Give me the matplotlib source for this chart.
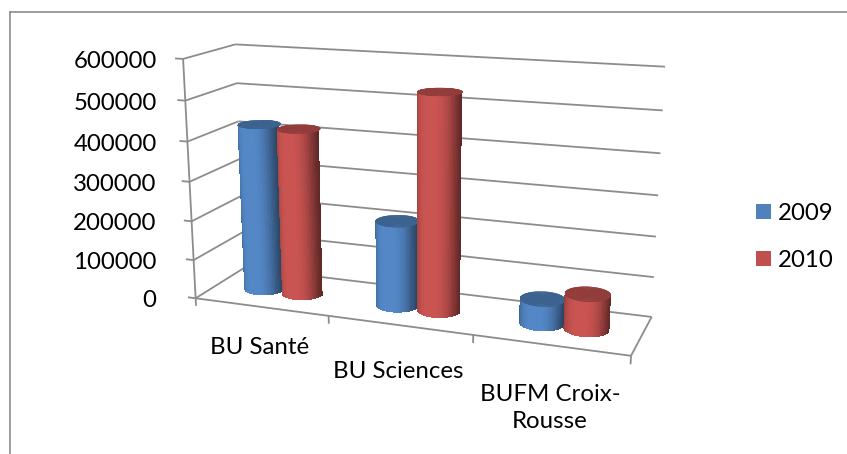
import numpy as np
import matplotlib
matplotlib.use("Agg")
import matplotlib.pyplot as plt
from matplotlib.patches import Patch
from matplotlib.lines import Line2D
from mpl_toolkits.mplot3d.art3d import Line3DCollection

categories = ["BU Santé", "BU Sciences", "BUFM Croix-\nRousse"]
series_names = ["2009", "2010"]
values_2009 = [426000, 214000, 60000]
values_2010 = [422000, 535000, 85000]
value_ticks = [0, 100000, 200000, 300000, 400000, 500000, 600000]

W, H = 847, 454
BLUE, RED = "#4F81BD", "#C0504D"
GRID = "#8C8C8C"
plt.rcParams["font.family"] = ["Lato", "DejaVu Sans"]
FS = 17.3

# Box corners (x, depth, z/zmax) -> picture pixels: fixes the camera of the 3D view
ZMAX = 600000.0
anchors = [((0, 0, 1), (182.7, 59.0)), ((0, 1, 1), (235.7, 44.3)),
           ((0, 0, 0), (196.0, 298.0)), ((0, 1, 0), (244.0, 268.0)),
           ((3, 1, 1), (665.0, 66.7)), ((3, 1, 0), (651.7, 316.7)),
           ((3, 0, 0), (631.0, 356.0))]
A = []
for (x, y, z), (u, v) in anchors:
    A.append([x, y, z, 1, 0, 0, 0, 0, -u*x, -u*y, -u*z, -u])
    A.append([0, 0, 0, 0, x, y, z, 1, -v*x, -v*y, -v*z, -v])
P = np.linalg.svd(np.array(A))[2][-1].reshape(3, 4)
if P[2, 3] < 0:
    P = -P

fig = plt.figure(figsize=(W/100, H/100), dpi=100, facecolor="white")
ax = fig.add_axes([0, 0, 1, 1], projection="3d", computed_zorder=False)
ax.set_axis_off()
ax.patch.set_alpha(0)
ax.apply_aspect = lambda position=None: None
ax.set_position([0, 0, 1, 1])
x0, x1 = ax.viewLim.intervalx
y0, y1 = ax.viewLim.intervaly
to_view = np.array([[(x1-x0)/W, 0, x0], [0, (y0-y1)/H, y1], [0, 0, 1]])
Pv = to_view @ P @ np.diag([1, 1, 1/ZMAX, 1])
M = np.array([Pv[0], Pv[1], [0, 1, 0, 0], Pv[2]])
ax.get_proj = lambda: M
ax.set_xlim(-1, 4); ax.set_ylim(-1, 2); ax.set_zlim(-100000, 700000)

def px(x, y, z):
    p = P @ np.array([x, y, z/ZMAX, 1.0])
    return p[0]/p[2], p[1]/p[2]

segments = []
for v in value_ticks:
    segments.append([(0, 0, v), (0, 1, v)])
    segments.append([(0, 1, v), (3, 1, v)])
    segments.append([(-0.06, 0, v), (0, 0, v)])
    _, ly = px(0, 0, v)
    fig.text(156.5/W, 1 - (ly + 2.5)/H, str(v), ha="right", va="center", fontsize=FS, color="black")
segments.append([(0, 0, 0), (0, 0, ZMAX)])
segments.append([(0, 0, 0), (3, 0, 0)])
segments.append([(3, 0, 0), (3, 1, 0)])
for i in range(4):
    segments.append([(i, 0, 0), (i, 0, -20000)])
ax.add_collection3d(Line3DCollection(segments, colors=GRID, linewidths=1.3, zorder=2))

def shade(col, t):
    """t: cos of angle across the cylinder (-1 left, 1 right)"""
    c = np.array(matplotlib.colors.to_rgb(col))
    f = 1.05 - 0.38*np.abs(t + 0.05)**3 - 0.10*(t > 0)*t**2
    return np.clip(np.outer(f, c), 0, 1)

def cylinder(xc, h, col, zo, rx=0.144, yc=0.5, ry=0.20):
    # visible front half of the side
    th = np.linspace(np.pi, 2*np.pi, 46)
    zs = np.array([0.0, h])
    T, Z = np.meshgrid(th, zs, indexing="ij")
    X = xc + rx*np.cos(T)
    Y = yc + ry*np.sin(T)
    tm = 0.5*(th[:-1] + th[1:])
    fc = shade(col, np.cos(tm))
    fc4 = np.concatenate([fc, np.ones((len(fc), 1))], axis=1)[:, None, :]
    ax.plot_surface(X, Y, Z, facecolors=fc4, shade=False, rstride=1, cstride=1,
                    linewidth=0.3, edgecolor="none", antialiased=False, zorder=zo)
    th2 = np.linspace(0, 2*np.pi, 145)
    r = np.array([0.0, 1.0])
    R, T2 = np.meshgrid(r, th2, indexing="ij")
    Xc = xc + rx*R*np.cos(T2)
    Yc = yc + ry*R*np.sin(T2)
    cap = tuple(np.array(matplotlib.colors.to_rgb(col))*0.76)
    ax.plot_surface(Xc, Yc, np.full_like(Xc, h), color=cap, edgecolor=cap, shade=False,
                    rstride=1, cstride=1, linewidth=0.3, antialiased=True, zorder=zo + 0.5)

OFF = 0.147
zo = 5
for i in range(len(categories)):
    cylinder(i + 0.5 - OFF, values_2009[i], BLUE, zo); zo += 1
    cylinder(i + 0.5 + OFF, values_2010[i], RED, zo); zo += 1

cat_pos = [(259.5, 348), (398, 371), (550, 408)]
for s, (cx, cy) in zip(categories, cat_pos):
    fig.text(cx/W, 1 - cy/H, s, ha="center", va="center", fontsize=FS, linespacing=1.33, color="black")

fig.add_artist(Line2D([9.5/W, 9.5/W], [0, 1 - 11.5/H], color=GRID, lw=1.2))
fig.add_artist(Line2D([9.5/W, 1], [1 - 11.5/H, 1 - 11.5/H], color=GRID, lw=1.2))

handles = [Patch(facecolor=BLUE, label=series_names[0]), Patch(facecolor=RED, label=series_names[1])]
fig.legend(handles=handles, loc="center left", bbox_to_anchor=(756/W, 1 - 237/H), frameon=False,
           fontsize=FS, handlelength=0.62, handleheight=0.62, handletextpad=0.3, labelspacing=1.07,
           borderpad=0, borderaxespad=0)

fig.savefig("out.png", dpi=100, facecolor="white")
